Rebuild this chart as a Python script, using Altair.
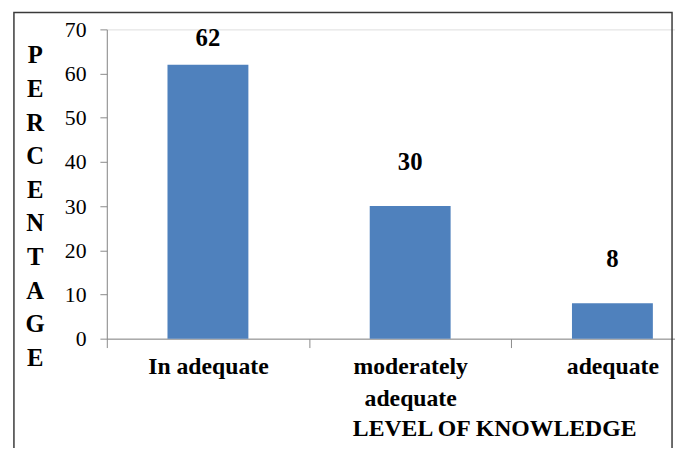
import altair as alt
import pandas as pd

categories = ["In adequate", "moderately adequate", "adequate"]
values = [62, 30, 8]
y_ticks = [0, 10, 20, 30, 40, 50, 60, 70]
y_title_letters = list("PERCENTAGE")
x_title = "LEVEL OF KNOWLEDGE"

df = pd.DataFrame({"level": categories, "pct": values})
FONT = "Liberation Serif, Times New Roman, serif"
BLUE = "#4F81BD"
AXIS_GRAY = "#898989"

x_enc = alt.X(
    "level:N",
    sort=categories,
    scale=alt.Scale(range=[0, 614], paddingInner=0, paddingOuter=0),
    axis=alt.Axis(
        title=x_title,
        titleFont=FONT,
        titleFontSize=24,
        titleFontWeight="bold",
        titleColor="black",
        titleX=392,
        titleY=98,
        titleAnchor="start",
        titleAlign="center",
        titleBaseline="alphabetic",
        labelFont=FONT,
        labelFontSize=24,
        labelFontWeight="bold",
        labelColor="black",
        labelAngle=0,
        labelPadding=7,
        labelLineHeight=33,
        labelExpr="length(datum.label) > 12 ? split(datum.label, ' ') : datum.label",
        tickBand="extent",
        tickSize=9,
        tickColor=AXIS_GRAY,
        domainColor=AXIS_GRAY,
        grid=False,
    ),
)

y_scale = alt.Scale(domain=[0, 70], nice=False)

bars = alt.Chart(df).mark_bar(
    color=BLUE, width=alt.RelativeBandSize(0.4)
).encode(
    x=x_enc,
    y=alt.Y(
        "pct:Q",
        scale=y_scale,
        axis=alt.Axis(
            values=y_ticks,
            title=y_title_letters,
            titleFont=FONT,
            titleFontSize=25,
            titleFontWeight="bold",
            titleColor="black",
            titleAngle=0,
            titleLineHeight=34,
            titleAlign="center",
            titleBaseline="middle",
            titleX=-73,
            titleY=26,
            labelFont=FONT,
            labelFontSize=22,
            labelColor="black",
            labelPadding=14,
            tickSize=7,
            tickColor=AXIS_GRAY,
            domainColor=AXIS_GRAY,
            grid=False,
        ),
    ),
)

labels = alt.Chart(df).transform_calculate(
    lab_pos="min(datum.pct + 10, 68.1)"
).mark_text(
    font=FONT, fontSize=25, fontWeight="bold", color="black", baseline="middle"
).encode(
    x=alt.X("level:N", sort=categories),
    y=alt.Y("lab_pos:Q", scale=y_scale),
    text=alt.Text("pct:Q"),
)

frame_df = pd.DataFrame({"f": [0]})
frame = alt.Chart(frame_df).mark_rect(
    fill="transparent", stroke="#3a3a3a", strokeWidth=1.5, clip=False
).encode(
    x=alt.value(-94),
    x2=alt.value(572),
    y=alt.value(-17),
    y2=alt.value(460),
)

chart = alt.layer(bars, labels, frame).properties(
    width=575,
    height=313,
    padding={"left": 100, "top": 19, "right": 0, "bottom": 108},
    autosize=alt.AutoSizeParams(type="none"),
).configure_view(stroke=None).configure(background="white")

chart.save("out.html", embed_options={"renderer": "svg", "actions": False})
